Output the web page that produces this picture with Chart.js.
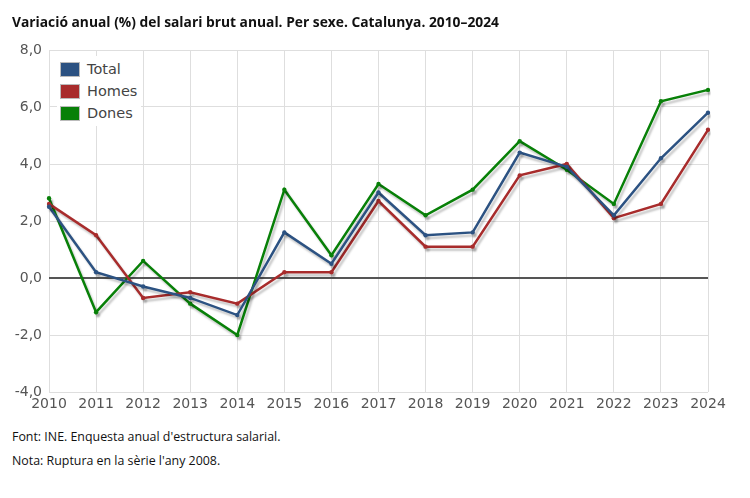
<!DOCTYPE html>
<html>
<head>
<meta charset="utf-8">
<script src="https://cdn.jsdelivr.net/npm/chart.js@4"></script>
<style>
  body { margin: 0; background: #fff; width: 750px; height: 498px; position: relative; overflow: hidden; }
  #title { position: absolute; left: 12px; top: 12px; font: bold 13.8px "Open Sans", sans-serif; color: #111; }
  #wrap { position: absolute; left: 0; top: 0; width: 750px; height: 420px; }
  #legend { position: absolute; left: 57px; top: 56px; background: #fff; padding: 2px 4px 2px 3px; }
  .item { display: flex; align-items: center; height: 22px; font: 14.5px "DejaVu Sans", sans-serif; color: #444; }
  .box { width: 18px; height: 13px; border: 1px solid #bbb; margin-right: 7px; }
  .note { position: absolute; left: 12px; font: 12.4px "Open Sans", sans-serif; color: #111; }
</style>
</head>
<body>
<div id="wrap"><canvas id="chart"></canvas></div>
<div id="title">Variació anual (%) del salari brut anual. Per sexe. Catalunya. 2010–2024</div>
<div id="legend"></div>
<div class="note" style="top:428px">Font: INE. Enquesta anual d'estructura salarial.</div>
<div class="note" style="top:452px">Nota: Ruptura en la sèrie l'any 2008.</div>
<script>
// Years on the x axis
const years = ['2010', '2011', '2012', '2013', '2014', '2015', '2016', '2017',
  '2018', '2019', '2020', '2021', '2022', '2023', '2024'];

// Annual change (%)
const total = [2.5, 0.2, -0.3, -0.7, -1.3, 1.6, 0.5, 3.0, 1.5, 1.6, 4.4, 3.9, 2.2, 4.2, 5.8];
const homes = [2.6, 1.5, -0.7, -0.5, -0.9, 0.2, 0.2, 2.7, 1.1, 1.1, 3.6, 4.0, 2.1, 2.6, 5.2];
const dones = [2.8, -1.2, 0.6, -0.9, -2.0, 3.1, 0.8, 3.3, 2.2, 3.1, 4.8, 3.8, 2.6, 6.2, 6.6];

const seriesNames = ['Total', 'Homes', 'Dones'];
const seriesColors = ['#2c5282', '#a82c2c', '#088008'];
const seriesData = [total, homes, dones];

// y axis ticks
const yMin = -4;
const yMax = 8;
const yStep = 2;

// Legend in HTML, drawn over the plot
const legendEl = document.getElementById('legend');
seriesNames.forEach((name, i) => {
  const row = document.createElement('div');
  row.className = 'item';
  row.innerHTML = '<span class="box" style="background:' + seriesColors[i] + '"></span>' + name;
  legendEl.appendChild(row);
});

// Soft drop shadow under each line
const shadowPlugin = {
  id: 'lineShadow',
  beforeDatasetDraw(chart) {
    const ctx = chart.ctx;
    ctx.save();
    ctx.shadowColor = 'rgba(0, 0, 0, 0.22)';
    ctx.shadowOffsetX = 2;
    ctx.shadowOffsetY = 3;
    ctx.shadowBlur = 2;
  },
  afterDatasetDraw(chart) {
    chart.ctx.restore();
  },
};

const ctx = document.getElementById('chart').getContext('2d');

new Chart(ctx, {
  type: 'line',
  data: {
    labels: years,
    datasets: seriesNames.map((name, i) => ({
      label: name,
      data: seriesData[i],
      borderColor: seriesColors[i],
      backgroundColor: seriesColors[i],
      borderWidth: 2.5,
      pointRadius: 2.2,
      pointBorderWidth: 0,
      pointHoverRadius: 2.5,
      tension: 0,
      fill: false,
    })),
  },
  plugins: [shadowPlugin],
  options: {
    responsive: true,
    maintainAspectRatio: false,
    animation: false,
    layout: { padding: { top: 50, right: 42, bottom: 0, left: 0 } },
    plugins: {
      legend: { display: false },
      tooltip: { enabled: false },
    },
    scales: {
      x: {
        offset: false,
        grid: { color: '#dedede', lineWidth: 1, drawTicks: false },
        border: { display: false },
        ticks: {
          color: '#555',
          font: { family: 'DejaVu Sans', size: 14 },
          padding: 4,
          maxRotation: 0,
          autoSkip: false,
        },
        afterFit(scale) { scale.height = 28; },
      },
      y: {
        min: yMin,
        max: yMax,
        grid: {
          color: (c) => (c.tick && c.tick.value === 0 ? '#555' : '#dedede'),
          lineWidth: (c) => (c.tick && c.tick.value === 0 ? 2 : 1),
          drawTicks: false,
        },
        border: { display: false },
        ticks: {
          stepSize: yStep,
          color: '#555',
          font: { family: 'DejaVu Sans', size: 14 },
          padding: 7,
          callback: (v) => v.toFixed(1).replace('.', ','),
        },
        afterFit(scale) { scale.width = 49; },
      },
    },
  },
});
</script>
</body>
</html>
